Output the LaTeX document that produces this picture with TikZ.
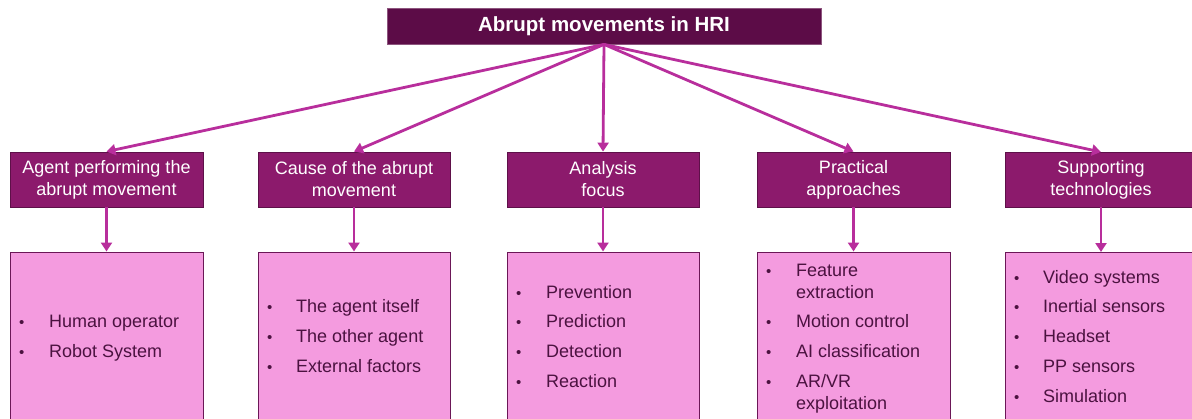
\documentclass[tikz,border=0pt]{standalone}
\usepackage{fontspec}
\setmainfont{Liberation Sans}
\usetikzlibrary{arrows.meta}
\definecolor{topc}{HTML}{5C0C47}
\definecolor{midc}{HTML}{8C1A6C}
\definecolor{midb}{HTML}{5E1049}
\definecolor{botc}{HTML}{F49BDF}
\definecolor{botb}{HTML}{6B1757}
\definecolor{arrc}{HTML}{B82E9C}
\definecolor{txtc}{HTML}{4B1240}
\tikzset{
  topbox/.style={draw=topc!70!white, fill=topc, line width=0.8pt, text=white, font=\fontsize{20.5}{24}\selectfont\bfseries, inner sep=0pt},
  midbox/.style={draw=midb, fill=midc, line width=0.8pt, text=white, font=\fontsize{18}{22}\selectfont, align=center, inner sep=0pt},
  botbox/.style={draw=botb, fill=botc, line width=1pt, inner sep=0pt},
  item/.style={text=txtc, font=\fontsize{18}{22}\selectfont, anchor=base west, inner sep=0pt},
  bul/.style={text=txtc, font=\fontsize{15}{18}\selectfont, anchor=base west, inner sep=0pt},
  conn/.style={draw=arrc, line width=2.8pt, -{Triangle[length=9pt,width=11pt]}},
}
\begin{document}
\begin{tikzpicture}[x=1pt,y=-1pt]
\useasboundingbox (0,0) rectangle (1192,418);
% top
\node[topbox, minimum width=434pt, minimum height=36pt] (top) at (604,26) {Abrupt movements in HRI};
% mid boxes
\node[midbox, minimum width=193pt, minimum height=55pt] (m1) at (106.5,179.5) {Agent performing the\\abrupt movement};
\node[midbox, minimum width=192pt, minimum height=55pt] (m2) at (354,179.5) {Cause of the abrupt\\movement};
\node[midbox, minimum width=192pt, minimum height=55pt] (m3) at (603,179.5) {Analysis\\focus};
\node[midbox, minimum width=193pt, minimum height=55pt] (m4) at (853.5,179.5) {Practical\\approaches};
\node[draw=midb, fill=midc, line width=0.8pt, minimum width=195pt, minimum height=55pt, inner sep=0pt] (m5) at (1102.5,179.5) {};
\node[text=white, font=\fontsize{18}{22}\selectfont, align=center] (m5t) at (1101,179.5) {Supporting\\technologies};
% bottom boxes
\node[botbox, minimum width=193pt, minimum height=180pt] (b1) at (106.5,342) {};
\node[botbox, minimum width=192pt, minimum height=180pt] (b2) at (354,342) {};
\node[botbox, minimum width=192pt, minimum height=180pt] (b3) at (603,342) {};
\node[botbox, minimum width=193pt, minimum height=180pt] (b4) at (853.5,342) {};
\node[botbox, minimum width=195pt, minimum height=180pt] (b5) at (1102.5,342) {};
% connectors
\coordinate (t0) at (top.south);
\coordinate (m5n) at (1101,152);
\coordinate (m5s) at (1101,207);
\coordinate (b5n) at (1101,252);
\draw[conn] (t0) -- (m1.north);
\draw[conn] (t0) -- (m2.north);
\draw[conn] (t0) -- (m3.north);
\draw[conn] (t0) -- (m4.north);
\draw[conn] (t0) -- (m5n);
\draw[conn] (m1.south) -- (b1.north);
\draw[conn] (m2.south) -- (b2.north);
\draw[conn] (m3.south) -- (b3.north);
\draw[conn] (m4.south) -- (b4.north);
\draw[conn] (m5s) -- (b5n);
% items box 1
\node[bul] (b1a) at (19,327) {•}; \node[item] (i1a) at (49,327) {Human operator};
\node[bul] (b1b) at (19,357) {•}; \node[item] (i1b) at (49,357) {Robot System};
% items box 2
\node[bul] (b2a) at (267,312) {•}; \node[item] (i2a) at (296,312) {The agent itself};
\node[bul] (b2b) at (267,342) {•}; \node[item] (i2b) at (296,342) {The other agent};
\node[bul] (b2c) at (267,372) {•}; \node[item] (i2c) at (296,372) {External factors};
% items box 3
\node[bul] (b3a) at (516,298) {•}; \node[item] (i3a) at (546,298) {Prevention};
\node[bul] (b3b) at (516,327) {•}; \node[item] (i3b) at (546,327) {Prediction};
\node[bul] (b3c) at (516,357) {•}; \node[item] (i3c) at (546,357) {Detection};
\node[bul] (b3d) at (516,387) {•}; \node[item] (i3d) at (546,387) {Reaction};
% items box 4
\node[bul] (b4a) at (766,276) {•}; \node[item] (i4a) at (796,276) {Feature};
\node[item] (i4a2) at (796,298) {extraction};
\node[bul] (b4b) at (766,327) {•}; \node[item] (i4b) at (796,327) {Motion control};
\node[bul] (b4c) at (766,357) {•}; \node[item] (i4c) at (796,357) {AI classification};
\node[bul] (b4d) at (766,387) {•}; \node[item] (i4d) at (796,387) {AR/VR};
\node[item] (i4d2) at (796,409) {exploitation};
% items box 5
\node[bul] (b5a) at (1014,283) {•}; \node[item] (i5a) at (1043,283) {Video systems};
\node[bul] (b5b) at (1014,312) {•}; \node[item] (i5b) at (1043,312) {Inertial sensors};
\node[bul] (b5c) at (1014,342) {•}; \node[item] (i5c) at (1043,342) {Headset};
\node[bul] (b5d) at (1014,372) {•}; \node[item] (i5d) at (1043,372) {PP sensors};
\node[bul] (b5e) at (1014,402) {•}; \node[item] (i5e) at (1043,402) {Simulation};
\end{tikzpicture}
\end{document}
